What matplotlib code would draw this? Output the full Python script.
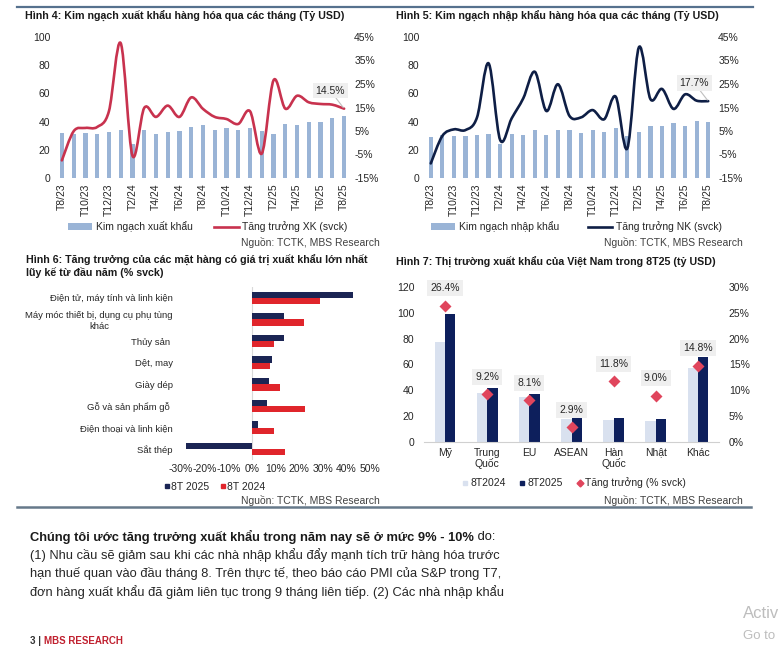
import numpy as np
import matplotlib
matplotlib.use("Agg")
import matplotlib.pyplot as plt
from matplotlib.path import Path
from matplotlib.patches import PathPatch, Patch
from matplotlib.lines import Line2D
from matplotlib.text import Annotation
from matplotlib import font_manager

# ---------------- DATA ----------------
months_ticks = ["T8/23", "T10/23", "T12/23", "T2/24", "T4/24", "T6/24", "T8/24",
                "T10/24", "T12/24", "T2/25", "T4/25", "T6/25", "T8/25"]

export_value = [31.9, 31.5, 31.9, 31.2, 32.9, 33.8, 24.1, 34.0, 31.0, 32.9, 33.1, 36.4, 37.8,
                34.3, 35.7, 33.8, 35.7, 33.1, 31.2, 38.5, 37.6, 39.7, 39.7, 42.6, 43.7]
export_growth = [-7.5, 4.9, 6.3, 6.7, 13.4, 42.4, -5.5, 14.8, 11.0, 15.8, 11.0, 19.3, 14.4,
                 11.0, 10.1, 8.0, 13.4, -4.6, 26.6, 14.5, 20.0, 17.2, 16.5, 16.2, 14.5]

import_value = [29.3, 30.3, 29.8, 29.8, 30.7, 31.0, 23.9, 31.2, 30.5, 34.0, 30.3, 34.0, 34.0,
                32.2, 34.0, 32.9, 35.5, 29.8, 32.9, 37.1, 37.1, 39.2, 36.9, 40.7, 40.0]
import_growth = [-8.8, 2.9, 5.7, 5.4, 10.8, 33.8, 1.2, 10.4, 18.9, 30.2, 13.5, 24.9, 11.4,
                 10.8, 13.9, 10.0, 19.6, -2.4, 40.6, 18.6, 22.9, 14.4, 20.6, 17.9, 17.7]

products = ["Điện tử, máy tính và linh kiện", "Máy móc thiết bị, dụng cụ phụ tùng\nkhác",
            "Thủy sản ", "Dệt, may", "Giày dép", "Gỗ và sản phẩm gỗ ",
            "Điện thoại và linh kiện", "Sắt thép"]
growth_8t2025 = [43.0, 13.7, 13.4, 8.5, 7.1, 6.5, 2.4, -27.8]
growth_8t2024 = [29.0, 22.0, 9.2, 7.8, 11.7, 22.3, 9.5, 14.1]
pct_ticks = [-30, -20, -10, 0, 10, 20, 30, 40, 50]
pct_tick_labels = ["-30%", "-20%", "-10%", "0%", "10%", "20%", "30%", "40%", "50%"]

markets = ["Mỹ", "Trung\nQuốc", "EU", "ASEAN", "Hàn\nQuốc", "Nhật", "Khác"]
market_8t2024 = [77.7, 37.6, 34.5, 18.1, 16.8, 16.1, 57.0]
market_8t2025 = [99.0, 41.5, 36.8, 18.6, 18.9, 17.6, 65.5]
market_growth = [26.4, 9.2, 8.1, 2.9, 11.8, 9.0, 14.8]

# ---------------- STYLE ----------------
W, H = 782, 656
plt.rcParams['font.family'] = ['Liberation Sans', 'DejaVu Sans']
FS = 7.5
TFS = 7.65
TXT = '#262626'
fig = plt.figure(figsize=(W / 100, H / 100), dpi=100)
fig.patch.set_facecolor('white')


def px_axes(l, t, r, b):
    return fig.add_axes([l / W, 1 - b / H, (r - l) / W, (b - t) / H])


def ftext(x, y, s, **kw):
    return fig.text(x / W, 1 - y / H, s, **kw)


def smooth_path(xs, ys, t=1 / 6):
    verts = [(xs[0], ys[0])]
    codes = [Path.MOVETO]
    n = len(xs)
    for i in range(n - 1):
        p0 = i - 1 if i > 0 else i
        p3 = i + 2 if i + 2 < n else i + 1
        c1 = (xs[i] + (xs[i + 1] - xs[p0]) * t, ys[i] + (ys[i + 1] - ys[p0]) * t)
        c2 = (xs[i + 1] - (xs[p3] - xs[i]) * t, ys[i + 1] - (ys[p3] - ys[i]) * t)
        verts += [c1, c2, (xs[i + 1], ys[i + 1])]
        codes += [Path.CURVE4] * 3
    return Path(verts, codes)


def clean(ax):
    for s in ax.spines.values():
        s.set_visible(False)
    ax.tick_params(length=0, labelsize=FS, colors=TXT)


BAR_BLUE = '#9AB4D6'


def monthly_chart(ax_box, values, growth, line_color, bar_label, line_label, ann_text,
                  legend_anchor, colspace):
    ax = px_axes(*ax_box)
    x = np.arange(len(values))
    ax.bar(x, values, width=0.36, color=BAR_BLUE, zorder=1)
    ax.set_xlim(-0.5, len(values) - 0.5)
    ax.set_ylim(0, 100)
    ax.set_yticks([0, 20, 40, 60, 80, 100])
    ax.set_xticks(x[::2])
    ax.set_xticklabels(months_ticks, rotation=90)
    clean(ax)
    ax.tick_params(axis='y', pad=4)
    ax.tick_params(axis='x', pad=4)
    ax2 = ax.twinx()
    ax2.set_ylim(-15, 45)
    ax2.set_yticks([-15, -5, 5, 15, 25, 35, 45])
    ax2.set_yticklabels([f"{v}%" for v in [-15, -5, 5, 15, 25, 35, 45]])
    clean(ax2)
    ax2.tick_params(axis='y', pad=3)
    ax2.add_patch(PathPatch(smooth_path(list(x), growth), fill=False, ec=line_color,
                            lw=1.9, capstyle='round', joinstyle='round', zorder=3))
    ax2.annotate(ann_text, xy=(x[-1], growth[-1]), xytext=(-10, 13), textcoords='offset points',
                 ha='center', va='center', fontsize=FS, color=TXT,
                 bbox=dict(boxstyle='square,pad=0.25', fc='#EFEFEF', ec='none'),
                 arrowprops=dict(arrowstyle='-', color='#BFBFBF', lw=0.8,
                                 shrinkA=0, shrinkB=1))
    handles = [Patch(facecolor=BAR_BLUE, edgecolor='none', label=bar_label),
               Line2D([], [], color=line_color, lw=1.9, label=line_label)]
    fig.legend(handles=handles, loc='center left',
               bbox_to_anchor=(legend_anchor[0] / W, 1 - legend_anchor[1] / H),
               ncol=2, frameon=False, fontsize=FS, handlelength=2.35, handleheight=0.7,
               handletextpad=0.3, columnspacing=colspace, borderpad=0, borderaxespad=0,
               labelcolor=TXT)
    return ax


# --- decorative page lines ---
fig.add_artist(Line2D([17 / W, 753 / W], [1 - 7 / H] * 2, color='#56718E', lw=1.6))
fig.add_artist(Line2D([17 / W, 751 / W], [1 - 507 / H] * 2, color='#66798A', lw=1.8))

# ---------------- Chart 4 ----------------
ftext(25, 16, "Hình 4: Kim ngạch xuất khẩu hàng hóa qua các tháng (Tỷ USD)",
      fontsize=TFS, fontweight='bold', color='#1A1A1A', va='center')
monthly_chart((56, 37, 350, 178), export_value, export_growth, '#C8324E',
              "Kim ngạch xuất khẩu", "Tăng trưởng XK (svck)", "14.5%", (68, 227), 2.1)
ftext(380, 243, "Nguồn: TCTK, MBS Research", fontsize=FS, color='#404040', ha='right', va='center')

# ---------------- Chart 5 ----------------
ftext(396, 16, "Hình 5: Kim ngạch nhập khẩu hàng hóa qua các tháng (Tỷ USD)",
      fontsize=TFS, fontweight='bold', color='#1A1A1A', va='center')
monthly_chart((425, 37, 714, 178), import_value, import_growth, '#0E1E45',
              "Kim ngạch nhập khẩu", "Tăng trưởng NK (svck)", "17.7%", (431, 227), 2.8)
ftext(743, 243, "Nguồn: TCTK, MBS Research", fontsize=FS, color='#404040', ha='right', va='center')

# ---------------- Chart 6 ----------------
ftext(26, 260, "Hình 6: Tăng trưởng của các mặt hàng có giá trị xuất khẩu lớn nhất",
      fontsize=TFS, fontweight='bold', color='#1A1A1A', va='center')
ftext(26, 273, "lũy kế từ đầu năm (% svck)",
      fontsize=TFS, fontweight='bold', color='#1A1A1A', va='center')
ax6 = px_axes(181, 287, 370, 460)
y = np.arange(len(products))
bh = 0.29
NAVY6, RED6 = '#1B2554', '#E0252B'
ax6.barh(y - bh / 2, growth_8t2025, height=bh, color=NAVY6, label="8T 2025", zorder=2)
ax6.barh(y + bh / 2, growth_8t2024, height=bh, color=RED6, label="8T 2024", zorder=2)
ax6.axvline(0, color='#D9D9D9', lw=0.8, zorder=1)
ax6.set_xlim(-30, 50)
ax6.set_ylim(len(products) - 0.5, -0.5)
ax6.set_yticks(y)
ax6.set_yticklabels(products, multialignment='center')
ax6.set_xticks(pct_ticks)
ax6.set_xticklabels(pct_tick_labels)
clean(ax6)
ax6.tick_params(axis='y', pad=6, labelsize=6.8)
ax6.tick_params(axis='x', pad=3)
h6 = [Line2D([], [], ls='none', marker='s', ms=3.2, color=NAVY6, label="8T 2025"),
      Line2D([], [], ls='none', marker='s', ms=3.2, color=RED6, label="8T 2024")]
fig.legend(handles=h6, loc='center left', bbox_to_anchor=(164 / W, 1 - 487 / H), ncol=2,
           frameon=False, fontsize=FS, handlelength=0.5, handletextpad=0.15,
           columnspacing=1.1, borderpad=0, borderaxespad=0, labelcolor=TXT)
ftext(380, 501, "Nguồn: TCTK, MBS Research", fontsize=FS, color='#404040', ha='right', va='center')

# ---------------- Chart 7 ----------------
ftext(396, 262, "Hình 7: Thị trường xuất khẩu của Việt Nam trong 8T25 (tỷ USD)",
      fontsize=TFS, fontweight='bold', color='#1A1A1A', va='center')
ax7 = px_axes(424, 287, 719, 442)
xm = np.arange(len(markets))
bw = 0.245
LIGHT7, NAVY7, DIA7 = '#D9E1EF', '#0D1F5C', '#E0455C'
ax7.bar(xm - bw / 2, market_8t2024, width=bw, color=LIGHT7, zorder=2)
ax7.bar(xm + bw / 2, market_8t2025, width=bw, color=NAVY7, zorder=2)
ax7.set_xlim(-0.5, len(markets) - 0.5)
ax7.set_ylim(0, 120)
ax7.set_yticks([0, 20, 40, 60, 80, 100, 120])
ax7.set_xticks(xm)
ax7.set_xticklabels(markets, linespacing=1.1)
clean(ax7)
ax7.spines['bottom'].set_visible(True)
ax7.spines['bottom'].set_color('#D0D0D0')
ax7.spines['bottom'].set_linewidth(0.8)
ax7.tick_params(axis='y', pad=7)
ax7.tick_params(axis='x', pad=4)
ax7b = ax7.twinx()
ax7b.set_ylim(0, 30)
ax7b.set_yticks([0, 5, 10, 15, 20, 25, 30])
ax7b.set_yticklabels([f"{v}%" for v in [0, 5, 10, 15, 20, 25, 30]])
clean(ax7b)
ax7b.tick_params(axis='y', pad=7)
ax7b.plot(xm, market_growth, ls='none', marker='D', ms=6.3, color=DIA7, mec='none', zorder=4)
for xi, g in zip(xm, market_growth):
    ax7b.annotate(f"{g:.1f}%", xy=(xi, g), xytext=(0, 12.5), textcoords='offset points',
                  ha='center', va='center', fontsize=FS, color=TXT,
                  bbox=dict(boxstyle='square,pad=0.3', fc='#EFEFEF', ec='none'))
h7 = [Line2D([], [], ls='none', marker='s', ms=3.5, color=LIGHT7, label="8T2024"),
      Line2D([], [], ls='none', marker='s', ms=3.5, color=NAVY7, label="8T2025"),
      Line2D([], [], ls='none', marker='D', ms=3.5, color=DIA7, label="Tăng trưởng (% svck)")]
fig.legend(handles=h7, loc='center left', bbox_to_anchor=(462 / W, 1 - 483 / H), ncol=3,
           frameon=False, fontsize=FS, handlelength=0.6, handletextpad=0.2,
           columnspacing=1.3, borderpad=0, borderaxespad=0, labelcolor=TXT)
ftext(743, 500, "Nguồn: TCTK, MBS Research", fontsize=FS, color='#404040', ha='right', va='center')

# ---------------- Body text ----------------
names = {f.name for f in font_manager.fontManager.ttflist}
if 'Liberation Sans Narrow' in names:
    body_fam, body_fs = ['Liberation Sans Narrow', 'Liberation Sans'], 10.2
else:
    body_fam, body_fs = ['Liberation Sans', 'DejaVu Sans'], 9.25
bold_t = ftext(30, 537, "Chúng tôi ước tăng trưởng xuất khẩu trong năm nay sẽ ở mức 9% - 10%",
               family=body_fam, fontsize=body_fs, fontweight='bold', color='#1A1A1A',
               va='center')
fig.add_artist(Annotation(" do:", xy=(1, 0.5), xycoords=bold_t, va='center', ha='left',
                          family=body_fam, fontsize=body_fs, color='#1A1A1A'))
body_lines = ["(1) Nhu cầu sẽ giảm sau khi các nhà nhập khẩu đẩy mạnh tích trữ hàng hóa trước",
              "hạn thuế quan vào đầu tháng 8. Trên thực tế, theo báo cáo PMI của S&P trong T7,",
              "đơn hàng xuất khẩu đã giảm liên tục trong 9 tháng liên tiếp. (2) Các nhà nhập khẩu"]
for i, line in enumerate(body_lines):
    ftext(30, 555 + i * 18.3, line, family=body_fam, fontsize=body_fs, color='#262626', va='center')

# footer
ft = ftext(30, 641, "3 | ", fontsize=7, fontweight='bold', color='#333333', va='center')
fig.add_artist(Annotation("MBS RESEARCH", xy=(1, 0.5), xycoords=ft, va='center', ha='left',
                          fontsize=7, fontweight='bold', color='#C0202F'))
# watermark
ftext(743, 614, "Activ", fontsize=12, color='#BDBDBD', va='center')
ftext(743, 636, "Go to", fontsize=9.5, color='#BDBDBD', va='center')

fig.savefig("out.png", dpi=100, facecolor='white')
